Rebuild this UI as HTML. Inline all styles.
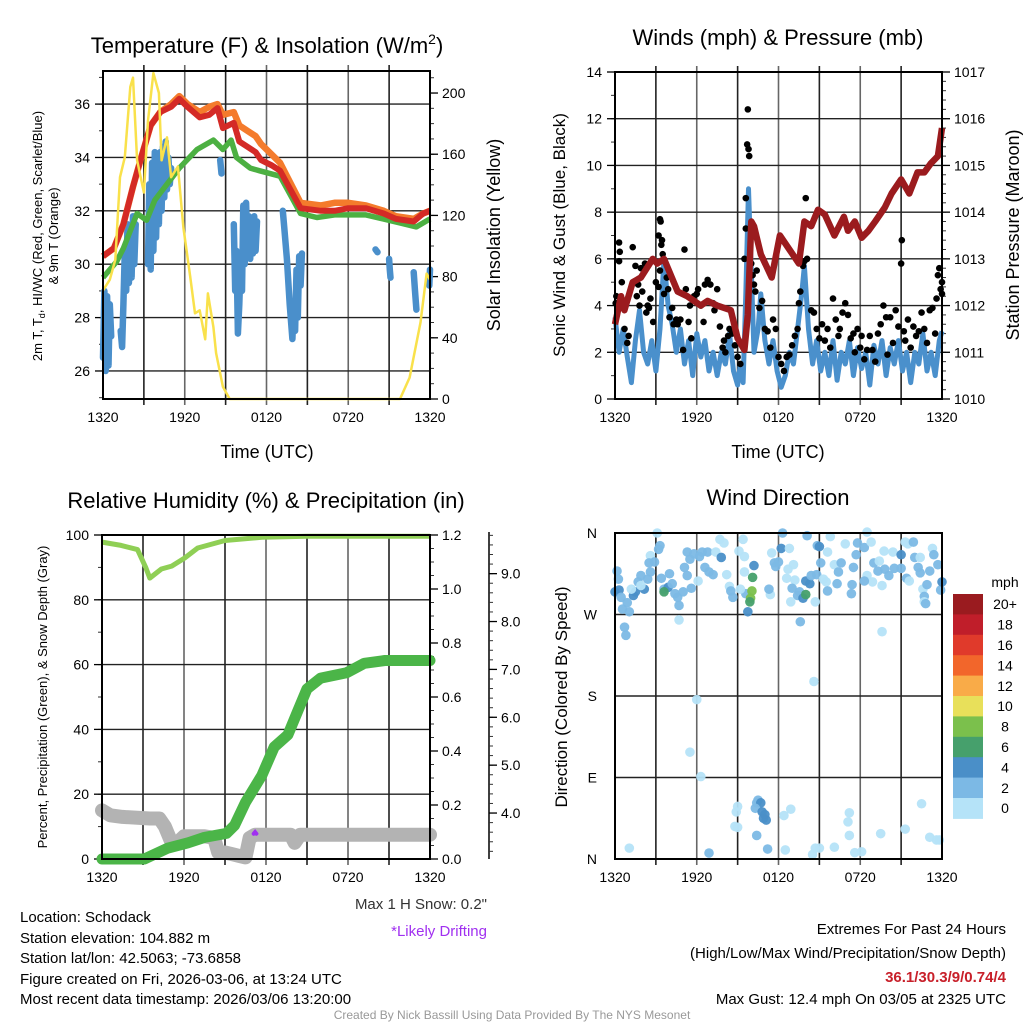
<!DOCTYPE html>
<html><head><meta charset="utf-8"><style>
html,body{margin:0;padding:0;background:#fff;}
svg{display:block;font-family:"Liberation Sans",Arial,sans-serif;}
</style></head><body>
<svg id="chart" width="1024" height="1024" viewBox="0 0 1024 1024" xmlns="http://www.w3.org/2000/svg">
<rect width="1024" height="1024" fill="#fff"/>
<g font-size="22" text-anchor="middle" fill="#000">
<text x="267" y="53">Temperature (F) &amp; Insolation (W/m<tspan dy="-9" font-size="14">2</tspan><tspan dy="9">)</tspan></text>
<text x="778" y="45">Winds (mph) &amp; Pressure (mb)</text>
<text x="266" y="508">Relative Humidity (%) &amp; Precipitation (in)</text>
<text x="778" y="505">Wind Direction</text>
</g>
<g font-size="18" text-anchor="middle">
<text x="267" y="458">Time (UTC)</text>
<text x="778" y="458">Time (UTC)</text>
<text transform="translate(500,235) rotate(-90)">Solar Insolation (Yellow)</text>
<text font-size="17" transform="translate(565,235) rotate(-90)">Sonic Wind &amp; Gust (Blue, Black)</text>
<text transform="translate(1019,235) rotate(-90)">Station Pressure (Maroon)</text>
<text font-size="17" transform="translate(567,697) rotate(-90)">Direction (Colored By Speed)</text>
</g>
<g font-size="13" text-anchor="middle">
<text transform="translate(42,236) rotate(-90)">2m T, T<tspan font-size="9" dy="3">d</tspan><tspan dy="-3">, HI/WC (Red, Green, Scarlet/Blue)</tspan></text>
<text transform="translate(58,236) rotate(-90)">&amp; 9m T (Orange)</text>
<text transform="translate(47,697) rotate(-90)">Percent, Precipitation (Green), &amp; Snow Depth (Gray)</text>
</g>
<g font-size="15" fill="#000">
<text x="20" y="922">Location: Schodack</text>
<text x="20" y="943">Station elevation: 104.882 m</text>
<text x="20" y="963">Station lat/lon: 42.5063; -73.6858</text>
<text x="20" y="984">Figure created on Fri, 2026-03-06, at 13:24 UTC</text>
<text x="20" y="1004">Most recent data timestamp: 2026/03/06 13:20:00</text>
<text x="487" y="909" text-anchor="end" fill="#333">Max 1 H Snow: 0.2"</text>
<text x="487" y="936" text-anchor="end" fill="#a030f0">*Likely Drifting</text>
<text x="1006" y="934" text-anchor="end">Extremes For Past 24 Hours</text>
<text x="1006" y="958" text-anchor="end">(High/Low/Max Wind/Precipitation/Snow Depth)</text>
<text x="1006" y="982" text-anchor="end" fill="#c8202a" font-weight="bold">36.1/30.3/9/0.74/4</text>
<text x="1006" y="1004" text-anchor="end">Max Gust: 12.4 mph On 03/05 at 2325 UTC</text>
<text x="512" y="1019" text-anchor="middle" font-size="12" fill="#999">Created By Nick Bassill Using Data Provided By The NYS Mesonet</text>
</g>
</svg>
<script>
// ---- Data ----
const xTickLabels = ["1320","1920","0120","0720","1320"];
const redHours = [0,0.8,1.5,2.2,2.8,3.5,4.2,5.0,5.6,6.2,7.1,7.8,8.4,8.8,9.6,10.0,10.6,11.2,11.6,12.4,13.0,14.5,16,17,18,19.3,20.6,21.5,22.8,23.5,24];
const redTemp = [30.3,30.6,31.5,32.9,34.0,35.2,35.7,35.9,36.2,35.9,35.5,35.6,35.85,35.1,35.3,34.6,34.4,34.2,33.9,33.7,33.5,32.1,32.0,32.0,32.1,32.1,31.9,31.7,31.6,31.9,32.0];
const orangeTemp = [30.3,30.6,31.5,32.9,34.0,35.2,35.7,36.0,36.3,36.0,35.7,35.9,36.0,35.6,35.7,35.2,35.0,34.8,34.5,34.1,33.8,32.3,32.2,32.3,32.3,32.2,32.0,31.8,31.7,31.9,32.0];
const greenHours = [0,1.0,1.5,2.5,3.2,3.8,4.4,5.0,5.6,6.9,8.1,8.8,9.4,9.8,10.8,11.5,13.0,14.5,15.7,17,19.3,21.8,23,24];
const greenTemp = [29.5,30.1,30.6,31.9,31.65,32.4,32.8,33.2,33.6,34.3,34.65,34.3,34.65,34.0,33.6,33.5,33.3,31.9,31.75,31.85,31.85,31.55,31.4,31.7];
const dewHours = [0,0.1,0.2,0.3,0.4,0.5,0.6,null,1.3,1.4,1.5,1.6,1.7,1.8,1.9,2.0,2.1,2.2,2.3,2.4,null,3.3,3.4,3.5,3.6,3.7,3.8,3.9,4.0,4.1,4.2,4.3,4.4,4.5,4.6,4.7,4.8,4.9,5.0,null,8.6,8.7,null,9.6,9.7,9.8,9.9,10.0,10.1,10.2,10.3,10.4,10.5,10.6,10.7,10.8,10.9,11.0,11.1,11.2,11.3,null,13.2,13.3,13.5,13.7,13.9,14.0,14.1,14.2,14.3,14.4,14.5,14.6,null,20.0,20.15,null,21.0,21.05,21.1,null,22.8,22.9,23.0,null,23.95,24];
const dewTemp = [26.5,29,26,28.8,26.2,28.5,27.3,null,27.5,26.9,28.5,30.5,29,31.5,29.3,31,29.5,31.8,30,31.5,null,30,33,29.8,33.8,30.5,34.2,31,33.5,31.5,34.2,32,34.4,32.5,34.6,32.8,34,33,33.6,null,33.9,33.4,null,31.5,29,30.5,27.4,28.5,30,29,32.2,30,32.3,30.5,31.8,30.2,31.6,30.4,31.8,30.5,31.6,null,32,31.4,30.2,28.5,27.2,28.5,27.5,29.8,28,30.3,29.2,30.4,null,30.55,30.45,null,30.2,29.8,29.5,null,29.7,29,28.3,null,29.2,29.8];
const solHours = [0,0.5,0.9,1.25,1.6,2.0,2.2,2.5,3.0,3.3,3.7,4.1,4.3,4.7,5.0,5.5,5.9,6.4,6.75,7.1,7.5,7.7,8.1,8.3,8.8,9.3,21.8,22.5,23.3,23.75,24];
const solValue = [71,78,91,145,158,204,210,156,135,182,213,200,156,171,145,152,112,80,56,58,39,69,47,30,8,0,0,14,50,82,78];

const windHours = [0,0.3,0.6,0.9,1.2,1.5,1.8,2.1,2.4,2.7,3.0,3.3,3.6,3.9,4.2,4.5,4.8,5.1,5.4,5.7,6.0,6.3,6.6,6.9,7.2,7.5,7.8,8.1,8.4,8.7,9.0,9.2,9.4,9.6,9.8,10.0,10.2,10.5,10.7,11.0,11.3,11.6,11.9,12.2,12.5,12.8,13.1,13.4,13.7,13.9,14.2,14.5,14.8,15.1,15.4,15.7,16.0,16.3,16.6,16.9,17.2,17.5,17.8,18.1,18.4,18.7,19.0,19.3,19.6,19.9,20.2,20.5,20.8,21.1,21.4,21.7,22.0,22.3,22.6,22.9,23.2,23.5,23.8,24.0];
const windSpeed = [3.5,2.0,3.0,1.8,0.7,2.5,3.8,2.0,1.5,2.5,1.2,3.0,6.0,4.0,3.2,2.0,3.0,1.5,2.5,1.0,2.8,1.8,2.5,1.2,2.0,1.0,2.0,1.5,2.8,1.2,0.6,1.5,0.7,4.5,9.0,5.5,2.0,3.0,4.5,2.5,1.5,2.5,1.2,0.5,1.0,2.0,1.5,3.0,4.5,5.7,3.0,1.5,2.5,1.2,2.0,1.0,2.5,0.8,2.0,1.5,2.5,1.0,2.2,1.3,2.0,0.6,2.3,1.5,2.5,1.0,2.2,1.5,2.5,1.2,2.0,0.7,2.0,1.5,2.8,1.2,2.0,1.0,2.5,2.9];
const gusts = [[0.1,4.4],[0.05,4.1],[0.3,6.7],[0.35,6.3],[0.3,5.9],[0.5,5.0],[0.7,3.0],[0.9,2.4],[1.0,2.7],[1.3,6.5],[1.5,5.7],[1.6,4.4],[1.7,4.9],[1.8,4.0],[1.9,5.6],[2.0,4.6],[2.2,5.8],[2.3,3.7],[2.4,4.0],[2.5,3.9],[2.6,4.3],[2.8,3.3],[3.0,5.0],[3.2,7.0],[3.3,7.7],[3.35,7.6],[3.4,6.6],[3.45,6.8],[3.5,6.2],[3.3,5.5],[3.2,4.8],[3.6,4.5],[3.8,5.2],[3.9,4.7],[4.0,3.5],[4.2,3.9],[4.3,3.2],[4.5,3.4],[4.6,3.2],[4.8,3.4],[5.0,2.1],[5.1,6.4],[5.2,4.7],[5.4,3.3],[5.5,4.0],[5.6,2.6],[5.8,4.4],[6.0,4.5],[6.1,4.7],[6.3,4.0],[6.5,3.3],[6.6,4.9],[6.8,5.1],[7.0,4.9],[7.2,4.1],[7.3,3.8],[7.5,4.7],[7.7,3.1],[7.9,2.2],[8.0,2.5],[8.1,2.0],[8.3,2.7],[8.4,3.0],[8.6,2.8],[8.8,2.3],[9.0,1.8],[9.2,1.5],[9.5,6.0],[9.6,8.6],[9.6,7.3],[9.75,12.4],[9.7,10.9],[9.8,10.7],[9.85,10.4],[10.0,5.8],[10.1,5.3],[10.2,4.9],[10.3,4.6],[10.4,5.5],[10.6,3.9],[10.8,4.2],[11.0,3.0],[11.2,2.9],[11.4,2.2],[11.6,3.4],[11.8,3.0],[12.0,1.8],[12.2,1.5],[12.4,1.2],[12.6,1.8],[12.8,1.9],[13.0,2.3],[13.2,2.7],[13.4,3.0],[13.5,4.1],[13.6,4.6],[13.8,5.7],[13.9,5.9],[14.0,8.6],[14.1,6.0],[14.4,3.8],[14.6,3.7],[14.8,3.0],[15.0,2.6],[15.2,3.2],[15.4,2.5],[15.6,3.0],[15.8,2.2],[16.0,4.3],[16.2,3.4],[16.4,2.7],[16.5,3.0],[16.7,3.7],[16.9,4.1],[17.1,3.6],[17.3,2.6],[17.5,2.8],[17.6,2.0],[17.8,3.0],[18.0,2.2],[18.1,2.7],[18.3,1.7],[18.5,2.1],[18.7,2.7],[18.9,2.1],[19.1,1.6],[19.3,2.8],[19.5,3.2],[19.7,4.0],[19.9,3.5],[20.0,1.9],[20.2,3.5],[20.4,2.4],[20.6,3.8],[20.8,3.1],[21.0,5.8],[21.05,6.8],[21.2,2.9],[21.3,2.5],[21.5,3.4],[21.7,2.2],[21.9,3.1],[22.1,2.7],[22.3,2.9],[22.5,3.7],[22.7,3.0],[22.9,2.4],[23.1,3.8],[23.3,3.9],[23.5,2.8],[23.6,4.3],[23.7,5.3],[23.8,5.6],[23.9,4.7],[24.0,4.5],[24.0,5.0]];
const presHours = [0,0.44,0.69,1.3,1.9,2.77,3.1,3.6,4.6,5.3,6.3,6.8,7.5,8.5,9.0,9.5,9.75,10.0,10.2,10.7,11.5,12.1,12.8,13.5,13.9,14.4,14.9,15.4,16.1,16.8,17.1,17.6,18.1,18.6,19.1,19.8,20.3,21.0,21.6,22.2,22.7,23.2,23.7,24];
const presValue = [1011.6,1012.2,1011.9,1012.5,1012.6,1013.0,1012.9,1013.0,1012.3,1012.2,1012.0,1012.1,1012.0,1011.9,1011.3,1011.05,1011.8,1013.8,1013.7,1013.1,1012.6,1013.5,1013.2,1012.9,1013.8,1013.7,1014.05,1013.95,1013.5,1013.9,1013.6,1013.8,1013.45,1013.6,1013.8,1014.1,1014.4,1014.7,1014.4,1014.85,1014.85,1015.05,1015.2,1015.8];

const precipHours = [0,3.1,4.8,6.3,7.5,9.1,9.7,10.5,11.7,12.6,13.6,14.3,15.0,16.0,17.9,19.2,20.7,24];
const precipValue = [0,0,0.04,0.06,0.08,0.095,0.125,0.21,0.31,0.415,0.46,0.545,0.63,0.67,0.69,0.725,0.735,0.735];
const rhHours = [0,1.4,2.6,3.2,3.5,4.35,5.1,6.05,7.0,9.0,11.7,15,24];
const rhValue = [97.8,96.8,95.5,90,86.7,89.5,90.4,92.9,96,98.3,99.3,99.6,99.6];
const snowHours = [0,0.6,1.5,3.5,4.2,4.6,5.0,5.5,6.0,7.5,8.2,8.5,9.0,9.5,10.0,10.5,10.8,11.2,12.0,13.0,13.8,14.1,14.5,16,20,24];
const snowPct = [15,13.5,13,12.5,12.5,10,6,5,7,7,6.5,2,2,1.5,1,0.5,6.5,7.5,7.5,7.5,7.5,5,7.5,7.5,7.5,7.5];
const driftHours = [11.1,11.2,11.3];
const driftPct = [7.8,8.3,7.8];

const dirObs = [[1.05,12,1],[6.9,6.6,3],[9.0,58,1],[8.9,52,1],[8.8,36,1],[9.0,35,1],[10.4,62,3],[10.5,65,3],[10.7,62,5],[10.3,56,3],[10.8,52,5],[11.0,49,5],[10.9,45,5],[11.1,43,5],[10.4,26,3],[11.2,11,3],[12.4,48,1],[12.9,55,1],[12.5,10,1],[14.5,5,1],[14.7,12,1],[15.0,12,1],[16.1,13,1],[17.2,51,1],[17.1,41,1],[17.2,26,1],[17.6,7,1],[18.1,8,1],[19.5,28,1],[21.3,33,1],[22.5,61,1],[23.1,24,1],[23.6,21,1],[23.8,21,1],
[6.0,176,1],[5.5,118,1],[6.3,91,1],[14.6,196,1],[4.7,264,1],[13.6,262,3],[19.6,251,1],[0.7,256,3],[0.8,247,3],
[3.1,360,1],[3.3,346,3],[3.2,342,3],[2.6,335,1],[2.5,327,3],[2.9,328,3],[2.6,317,3],[1.9,313,3],[1.7,306,3],[2.4,309,3],[0.15,318,3],[0.25,309,3],[0,295,5],[0.3,297,5],[0.45,289,3],[0.55,276,3],[0.9,283,3],[1.05,273,3],[1.35,291,5],[1.5,295,5],[2.15,298,5],[1.9,302,1],[1.2,298,1],[3.4,310,3],[3.6,298,3],[3.9,300,5],[4.0,315,3],[4.2,304,3],[4.4,293,3],[4.6,289,3],[4.7,280,3],[5.0,295,3],[5.1,322,3],[5.3,313,3],[5.6,299,3],[5.3,339,3],[5.5,331,3],[5.8,337,3],[6.2,334,3],[6.4,339,3],[6.8,339,3],[6.6,322,3],[6.9,317,3],[7.2,314,3],[6.1,307,1],[7.4,339,1],[7.7,353,1],[8.0,349,1],[7.8,333,5],[8.2,314,1],[8.4,301,1],[8.5,296,3],[8.65,289,3],[9.1,340,1],[9.4,353,1],[9.5,334,1],[9.5,317,1],[10.2,324,5],[9.75,273,5],[9.6,293,3],[9.2,298,1],[11.4,292,1],[11.3,298,3],[11.5,338,1],[11.7,327,3],[11.8,323,3],[12.0,328,3],[12.2,343,5],[12.3,360,3],[12.8,343,1],[12.7,320,1],[13.1,325,1],[12.6,310,1],[13.2,308,1],[13.0,299,3],[13.55,295,3],[13.4,291,3],[13.8,288,5],[14.0,307,5],[14.3,304,5],[14.4,313,3],[14.8,314,3],[12.9,284,1],[14.7,284,1],[14.1,357,3],[14.85,346,3],[15.0,345,5],[15.1,327,3],[15.3,309,1],[15.5,306,1],[15.6,296,3],[15.8,356,1],[15.6,339,1],[16.1,325,1],[16.4,317,3],[16.6,327,3],[16.9,348,1],[16.3,304,3],[17.4,303,3],[17.35,293,3],[17.5,322,3],[17.7,336,3],[17.8,349,3],[18.3,344,3],[18.5,361,1],[18.8,350,1],[19.0,327,3],[19.3,318,3],[19.4,329,1],[18.5,313,1],[18.9,306,1],[18.3,307,3],[19.75,340,1],[19.8,320,3],[20.1,313,3],[20.4,339,1],[20.5,321,3],[21.0,321,3],[21.0,336,5],[21.3,350,1],[21.5,348,1],[21.9,350,3],[21.4,310,3],[21.6,307,1],[22.0,333,3],[22.25,322,3],[22.4,316,3],[22.4,333,1],[22.6,298,1],[22.9,303,3],[23.1,318,3],[23.3,343,1],[23.4,336,3],[23.7,325,3],[23.9,297,3],[24.0,306,5],[22.7,290,3],[22.7,284,1],[22.8,282,3],[19.6,302,1],
[10.1,311,7],[10.05,296,9],[9.95,288,9],[9.9,284,7],[3.6,295,7],[14.0,292,7]];
const speedBins = ["0","2","4","6","8","10","12","14","16","18","20+"];
const speedColors = ["#b5e3f8","#7cb9e5","#4a8fc8","#46a06c","#7bc04c","#e8e05a","#f9ab48","#f2662b","#e03a2b","#c01e2a","#9a1b1f"];

// ---- Helpers ----
const NS = "http://www.w3.org/2000/svg";
const svg = document.getElementById("chart");
function mk(tag, attrs, parent){const e=document.createElementNS(NS,tag);for(const k in attrs)e.setAttribute(k,attrs[k]);(parent||svg).appendChild(e);return e;}
function lin(d0,d1,r0,r1){return v=>r0+(v-d0)/(d1-d0)*(r1-r0);}
function pathFrom(xs,ys,fx,fy){let d="",pen=false;for(let i=0;i<xs.length;i++){if(xs[i]===null||ys[i]===null){pen=false;continue;}d+=(pen?"L":"M")+fx(xs[i]).toFixed(1)+","+fy(ys[i]).toFixed(1);pen=true;}return d;}

function panelFrame(P,name,hGridVals,fy){
  const g=mk("g",{});
  
  
  for(let k=1;k<8;k++){const x=P.x0+k*(P.x1-P.x0)/8;const l=mk("line",{x1:x,x2:x,y1:P.y0-(P.ext||0),y2:P.y1+6,stroke:k%2?"#222":"#666","stroke-width":1.6},g);
    
    }
  hGridVals.forEach(v=>{const y=fy(v);const l=mk("line",{x1:P.x0,x2:P.x1,y1:y,y2:y,stroke:"#222","stroke-width":1.4},g);
    
    });
  const fx=lin(0,24,P.x0,P.x1);
  xTickLabels.forEach((t,i)=>{const tx=mk("text",{x:fx(i*6),y:P.y1+23,"font-size":14,"text-anchor":"middle"},g);tx.textContent=t;
    
    });
  return g;
}
function border(P,name){const r=mk("rect",{x:P.x0,y:P.y0,width:P.x1-P.x0,height:P.y1-P.y0,fill:"none",stroke:"#000","stroke-width":2});
  
  }
function yAxis(x,fy,majors,minors,labels,side,name){
  const g=mk("g",{});
  
  
  const dir=side==="left"?-1:1;
  minors.forEach(v=>{const y=fy(v);mk("line",{x1:x,x2:x+dir*4,y1:y,y2:y,stroke:"#333","stroke-width":1},g);});
  majors.forEach((v,i)=>{const y=fy(v);mk("line",{x1:x,x2:x+dir*8,y1:y,y2:y,stroke:"#000","stroke-width":1.3},g);
    const t=mk("text",{x:x+dir*(side==="left"?13:12),y:y+5,"font-size":14,"text-anchor":side==="left"?"end":"start"},g);t.textContent=labels[i];
    
    });
}
function range(a,b,s){const r=[];for(let v=a;v<=b+1e-9;v+=s)r.push(+v.toFixed(4));return r;}

// ---- Panel 1 ----
const P1={x0:103,x1:430,y0:71,y1:399,ext:6};
const fx1=lin(0,24,P1.x0,P1.x1), fyT=lin(24.95,37.24,P1.y1,P1.y0), fyS=lin(0,214.4,P1.y1,P1.y0);
panelFrame(P1,"temperature",[26,28,30,32,34,36],fyT);
const tMaj=[26,28,30,32,34,36];
yAxis(P1.x0,fyT,tMaj,range(25,37,1),tMaj.map(String),"left","temperature-y-axis");
const sMaj=[0,40,80,120,160,200];
yAxis(P1.x1,fyS,sMaj,range(0,210,10),sMaj.map(String),"right","solar-y-axis");
let e;
e=mk("path",{d:pathFrom(dewHours,dewTemp,fx1,fyT),fill:"none",stroke:"#4a8fcb","stroke-width":6.5,"stroke-linejoin":"round","stroke-linecap":"round"});


e=mk("path",{d:pathFrom(redHours,orangeTemp,fx1,fyT),fill:"none",stroke:"#f47b2c","stroke-width":6.5,"stroke-linejoin":"round"});


e=mk("path",{d:pathFrom(greenHours,greenTemp,fx1,fyT),fill:"none",stroke:"#4cb042","stroke-width":5.5,"stroke-linejoin":"round"});


e=mk("path",{d:pathFrom(redHours,redTemp,fx1,fyT),fill:"none",stroke:"#d42a26","stroke-width":6,"stroke-linejoin":"round"});


e=mk("path",{d:pathFrom(solHours,solValue,fx1,fyS),fill:"none",stroke:"#f9e14b","stroke-width":2.5,"stroke-linejoin":"round"});


border(P1,"temperature");

// ---- Panel 2 ----
const P2={x0:615,x1:942,y0:72,y1:399,ext:6};
const fx2=lin(0,24,P2.x0,P2.x1), fyW=lin(0,14,P2.y1,P2.y0), fyP=lin(1010,1017,P2.y1,P2.y0);
panelFrame(P2,"winds",[2,4,6,8,10,12],fyW);
const wMaj=[0,2,4,6,8,10,12,14];
yAxis(P2.x0,fyW,wMaj,range(0,14,1),wMaj.map(String),"left","wind-y-axis");
const pMaj=[1010,1011,1012,1013,1014,1015,1016,1017];
yAxis(P2.x1,fyP,pMaj,range(1010,1017,0.2),pMaj.map(String),"right","pressure-y-axis");
e=mk("path",{d:pathFrom(windHours,windSpeed,fx2,fyW),fill:"none",stroke:"#4a90cc","stroke-width":5,"stroke-linejoin":"round"});


const gg=mk("g",{fill:"#000"});


gusts.forEach(p=>{const c=mk("circle",{cx:fx2(p[0]),cy:fyW(p[1]),r:3.3},gg);
  
  });
e=mk("path",{d:pathFrom(presHours,presValue,fx2,fyP),fill:"none",stroke:"#9b1b1e","stroke-width":6.5,"stroke-linejoin":"round"});


border(P2,"winds");

// ---- Panel 3 ----
const P3={x0:102,x1:430,y0:535,y1:859,ext:0};
const fx3=lin(0,24,P3.x0,P3.x1), fyR=lin(0,100,P3.y1,P3.y0), fyPr=lin(0,1.2,P3.y1,P3.y0), fySn=lin(3.04,9.87,859,532);
panelFrame(P3,"humidity",[20,40,60,80],fyR);
const rMaj=[0,20,40,60,80,100];
yAxis(P3.x0,fyR,rMaj,range(0,100,10),rMaj.map(String),"left","percent-y-axis");
const prMaj=[0,0.2,0.4,0.6,0.8,1.0,1.2];
yAxis(P3.x1,fyPr,prMaj,range(0,1.2,0.05),prMaj.map(v=>v.toFixed(1)),"right","precip-y-axis");
const snMaj=[4,5,6,7,8,9];
e=mk("line",{x1:489,x2:489,y1:532,y2:859,stroke:"#000","stroke-width":1.5});


yAxis(489,fySn,snMaj,range(3.2,9.8,0.2),snMaj.map(v=>v.toFixed(1)),"right","snow-y-axis");
e=mk("path",{d:pathFrom(snowHours,snowPct,fx3,fyR),fill:"none",stroke:"#b3b3b3","stroke-width":14,"stroke-linejoin":"round","stroke-linecap":"round"});


e=mk("path",{d:pathFrom(precipHours,precipValue,fx3,fyPr),fill:"none",stroke:"#4bb548","stroke-width":11,"stroke-linejoin":"round","stroke-linecap":"round"});


e=mk("path",{d:pathFrom(rhHours,rhValue,fx3,fyR),fill:"none",stroke:"#8fcf55","stroke-width":5,"stroke-linejoin":"round"});


e=mk("path",{d:pathFrom(driftHours,driftPct,fx3,fyR),fill:"none",stroke:"#a030f0","stroke-width":4,"stroke-linecap":"round"});


border(P3,"humidity");

// ---- Panel 4 ----
const P4={x0:615,x1:942,y0:533,y1:859,ext:0};
const fx4=lin(0,24,P4.x0,P4.x1), fyD=lin(0,360,P4.y1,P4.y0);
panelFrame(P4,"direction",[90,180,270],fyD);
const dirLabels=["N","E","S","W","N"];
[0,90,180,270,360].forEach((v,i)=>{const t=mk("text",{x:597,y:fyD(v)+5,"font-size":14,"text-anchor":"end"});t.textContent=dirLabels[i];
  
  });
const dg=mk("g",{});


dirObs.forEach(p=>{const bin=Math.min(10,Math.floor(p[2]/2));const c=mk("circle",{cx:fx4(p[0]),cy:fyD(p[1]),r:4.8,fill:speedColors[bin],opacity:0.95},dg);
  
  });
border(P4,"direction");

// colorbar
const cb=mk("g",{});


const cbTop=594, cbH=20.4;
let t0=mk("text",{x:1005,y:587,"font-size":14,"text-anchor":"middle"},cb);t0.textContent="mph";


for(let i=0;i<speedBins.length;i++){const j=speedBins.length-1-i;const y=cbTop+i*cbH;
  const r=mk("rect",{x:953,y:y,width:30,height:cbH+0.5,fill:speedColors[j]},cb);
  
  
  const t=mk("text",{x:1005,y:y+cbH/2+5,"font-size":14,"text-anchor":"middle"},cb);t.textContent=speedBins[j];
  
  }
</script>
</body></html>
